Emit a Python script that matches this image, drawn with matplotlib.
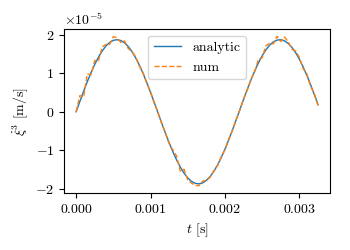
import numpy as np
import matplotlib
matplotlib.use("Agg")
import matplotlib.pyplot as plt

plt.rcParams["font.family"] = "serif"
plt.rcParams["font.serif"] = ["cmr10"]
plt.rcParams["mathtext.fontset"] = "cm"
plt.rcParams["axes.formatter.use_mathtext"] = True
plt.rcParams["font.size"] = 10

# time samples [s]
t = np.arange(66) * 0.00005

# analytic velocity (units of 1e-5 m/s)
analytic = [
    0.000, 0.267, 0.529, 0.780, 1.015, 1.229, 1.418, 1.578, 1.705, 1.797,
    1.853, 1.870, 1.849, 1.790, 1.694, 1.563, 1.401, 1.209, 0.992, 0.756,
    0.503, 0.241, -0.027, -0.294, -0.555, -0.804, -1.037, -1.249, -1.435, -1.592,
    -1.716, -1.805, -1.856, -1.870, -1.845, -1.782, -1.682, -1.549, -1.383, -1.188,
    -0.970, -0.731, -0.478, -0.214, 0.053, 0.320, 0.580, 0.828, 1.059, 1.268,
    1.452, 1.605, 1.726, 1.812, 1.860, 1.869, 1.840, 1.774, 1.671, 1.534,
    1.365, 1.167, 0.947, 0.707, 0.452, 0.188,
]

# numerical solution (units of 1e-5 m/s)
num = [
    0.000, 0.420, 0.380, 0.980, 0.960, 1.330, 1.320, 1.680, 1.750, 1.750,
    1.950, 1.920, 1.800, 1.840, 1.640, 1.560, 1.430, 1.180, 1.010, 0.730,
    0.520, 0.220, -0.010, -0.310, -0.540, -0.830, -0.990, -1.150, -1.540, -1.490,
    -1.770, -1.850, -1.910, -1.920, -1.800, -1.780, -1.700, -1.530, -1.400, -1.170,
    -0.990, -0.710, -0.490, -0.200, 0.040, 0.340, 0.560, 0.850, 1.040, 1.370,
    1.400, 1.710, 1.780, 1.760, 1.960, 1.820, 1.940, 1.820, 1.620, 1.580,
    1.410, 1.120, 0.990, 0.660, 0.480, 0.160,
]

fig = plt.figure(figsize=(3.5, 2.5), dpi=100)
ax = fig.add_axes([0.183, 0.227, 0.760, 0.658])

ax.plot(t, np.array(analytic) * 1e-5, color="tab:blue", lw=1.0, label="analytic")
ax.plot(t, np.array(num) * 1e-5, color="tab:orange", lw=1.0, ls="--", label="num")

ax.set_xlabel(r"$t$ [s]")
ax.set_ylabel(r"$\dot{\xi}^3$ [m/s]")
ax.set_xticks([0, 0.001, 0.002, 0.003])
ax.legend(loc="upper center")

fig.savefig("out.png", dpi=100)
